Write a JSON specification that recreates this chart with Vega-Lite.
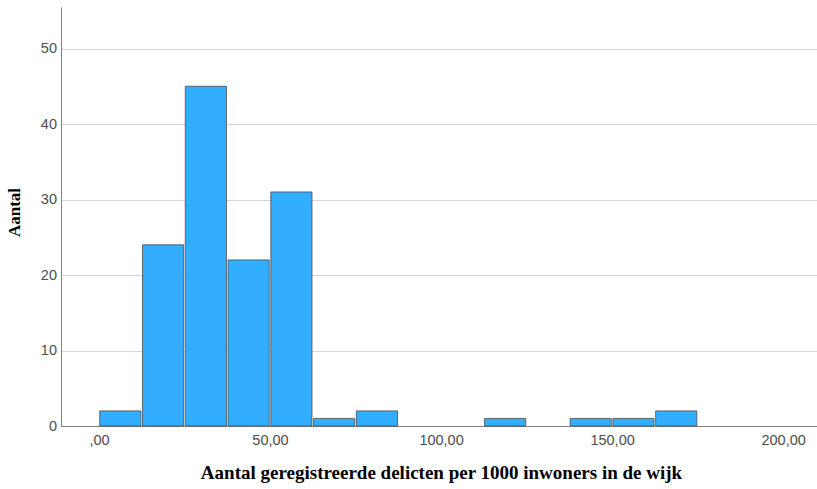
{
  "$schema": "https://vega.github.io/schema/vega-lite/v6.json",
  "width": 756,
  "height": 419,
  "autosize": "none",
  "padding": {"left": 61, "top": 7, "right": 0, "bottom": 63},
  "background": "white",
  "config": {"view": {"stroke": null}},
  "data": {
    "values": [
      {"start": 0, "end": 12.5, "count": 2},
      {"start": 12.5, "end": 25, "count": 24},
      {"start": 25, "end": 37.5, "count": 45},
      {"start": 37.5, "end": 50, "count": 22},
      {"start": 50, "end": 62.5, "count": 31},
      {"start": 62.5, "end": 75, "count": 1},
      {"start": 75, "end": 87.5, "count": 2},
      {"start": 112.5, "end": 125, "count": 1},
      {"start": 137.5, "end": 150, "count": 1},
      {"start": 150, "end": 162.5, "count": 1},
      {"start": 162.5, "end": 175, "count": 2}
    ]
  },
  "mark": {"type": "rect", "fill": "#33adff", "stroke": "#4a4a4a", "strokeWidth": 0.8, "xOffset": 0.8, "x2Offset": -0.8},
  "encoding": {
    "x": {
      "field": "start", "type": "quantitative",
      "scale": {"domain": [-11.1, 209.9], "nice": false, "zero": false},
      "axis": {
        "values": [0, 50, 100, 150, 200],
        "labelExpr": "datum.value === 0 ? ',00' : replace(format(datum.value, '.2f'), '.', ',')",
        "ticks": false, "grid": false,
        "domainColor": "#808080", "domainWidth": 1,
        "labelFont": "Liberation Sans", "labelFontSize": 14.5, "labelColor": "#4d4d4d",
        "labelPadding": 7,
        "title": "Aantal geregistreerde delicten per 1000 inwoners in de wijk",
        "titleFont": "Liberation Serif", "titleFontSize": 19, "titleFontWeight": "bold", "titleColor": "#000000",
        "titleBaseline": "alphabetic", "titleY": 52, "titleX": 380, "titleAlign": "center"
      }
    },
    "x2": {"field": "end"},
    "y": {
      "field": "count", "type": "quantitative",
      "scale": {"domain": [0, 55.5], "nice": false},
      "axis": {
        "values": [0, 10, 20, 30, 40, 50],
        "ticks": false, "grid": true, "gridColor": "#d4d4d4", "gridWidth": 1,
        "domainColor": "#808080", "domainWidth": 1,
        "labelFont": "Liberation Sans", "labelFontSize": 14.5, "labelColor": "#4d4d4d",
        "labelPadding": 4.5,
        "title": "Aantal",
        "titleFont": "Liberation Serif", "titleFontSize": 17, "titleFontWeight": "bold", "titleColor": "#000000",
        "titleAngle": -90, "titleBaseline": "alphabetic", "titleX": -42, "titleY": 205, "titleAlign": "center"
      }
    },
    "y2": {"datum": 0}
  }
}
